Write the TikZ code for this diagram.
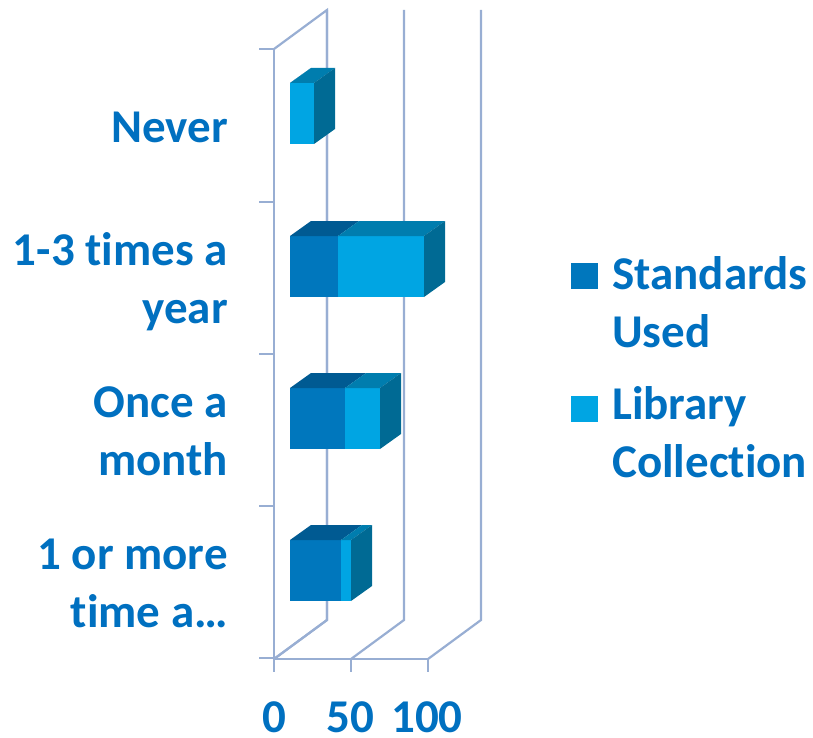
\documentclass[tikz,border=0pt]{standalone}
\usepackage{fontspec}
\setmainfont{Carlito}[Ligatures=NoCommon]
\definecolor{Txt}{HTML}{0070C0}
\definecolor{Std}{HTML}{0077BD}
\definecolor{StdTop}{HTML}{005A92}
\definecolor{Lib}{HTML}{00A5E3}
\definecolor{LibTop}{HTML}{007DAE}
\definecolor{Side}{HTML}{006A94}
\definecolor{Grid}{HTML}{98AED3}
\begin{document}
\begin{tikzpicture}[x=1pt,y=-1pt,
grid/.style={Grid,line width=2.2pt},
lbl/.style={text=Txt,inner sep=0pt,font=\bfseries\fontsize{47}{58}\selectfont}]
\useasboundingbox (0,0) rectangle (813,738);
% walls and floor
\coordinate (ftop) at (274,49);
\coordinate (fbot) at (274,659);
\coordinate (btop) at (327,10);
\coordinate (bbot) at (327,620);
\draw[grid] (ftop) -- (fbot) -- (428,659);
\draw[grid] (ftop) -- (btop) -- (bbot) -- (fbot);
\foreach \x in {0,77,154}{
  \draw[grid] (274+\x,659) -- (327+\x,620) -- (327+\x,10);
  \draw[grid] (274+\x,659) -- (274+\x,672);
}
\foreach \y in {49,202,354,506,658}
  \draw[grid] (259,\y) -- (274,\y);
% bars: top / left end / middle / right end
\foreach \t/\a/\b/\c in {83/290/290/314,236/290/338/424,388/290/345/380,540/290/341/351}{
  \fill[Std] (\a,\t) rectangle (\b,\t+61);
  \fill[Lib] (\b,\t) rectangle (\c,\t+61);
  \fill[StdTop] (\a,\t) -- (\a+21,\t-15) -- (\b+21,\t-15) -- (\b,\t) -- cycle;
  \fill[LibTop] (\b,\t) -- (\b+21,\t-15) -- (\c+21,\t-15) -- (\c,\t) -- cycle;
  \fill[Side] (\c,\t) -- (\c+21,\t-15) -- (\c+21,\t+46) -- (\c,\t+61) -- cycle;
}
% category labels (base = last line)
\path[nodes={lbl,align=right,anchor=base east}]
(228,143) node (never) {Never}
(228,323) node (yearly) {1-3 times a\\year}
(228,475) node (monthly) {Once a\\month}
(228,627) node (often) {1 or more\\time a\ldots}
;
% value labels
\path[nodes={lbl,anchor=base}]
(274,732) node (v0) {0}
(350,732) node (v50) {50}
(427,732) node (v100) {100}
;
% legend
\fill[Std] (571,263) rectangle (598,289);
\fill[Lib] (571,396) rectangle (598,422);
\path[nodes={lbl,align=left,anchor=base west}]
(612,347) node (kstd) {Standards\\Used}
(612,477) node (klib) {Library\\Collection}
;
\end{tikzpicture}
\end{document}
